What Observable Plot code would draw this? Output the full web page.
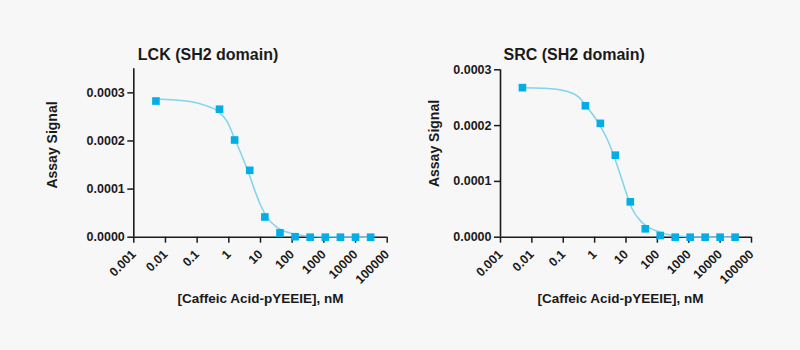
<!DOCTYPE html>
<html><head><meta charset="utf-8">
<script src="https://cdn.jsdelivr.net/npm/d3@7"></script>
<script src="https://cdn.jsdelivr.net/npm/@observablehq/plot@0.6"></script>
<style>
html,body{margin:0;padding:0;background:#f7f7f7;}
#wrap{display:flex;width:800px;height:350px;overflow:hidden;}
#wrap svg{font-family:"Liberation Sans",Arial,Helvetica,sans-serif;}
</style></head><body><div id="wrap"></div>
<script>
// Concentrations (nM) of the measured points
const concentrations = [0.005, 0.508, 1.524, 4.572, 13.72, 41.15, 123.5, 370.4, 1111, 3333, 10000, 30000];
// Measured assay signal
const lckSignal = [0.000283, 0.000266, 0.000202, 0.000139, 0.000042, 0.000009, 0.000001, 0, 0, 0, 0, 0];
const srcSignal = [0.000268, 0.0002355, 0.000204, 0.000147, 0.0000634, 0.000015, 0.000003, 0, 0, 0, 0, 0];
// Fitted curves
const lckCurveX = [0.005, 0.06, 0.2, 0.43, 0.89, 1.44, 2.34, 4.27, 6.2, 10, 17, 34, 89, 300, 1000, 30000];
const lckCurveY = [0.000287, 0.000282, 0.000273, 0.000263, 0.00024, 0.000209, 0.000176, 0.000133, 0.000102, 0.000067, 0.000039, 0.00002, 0.0000085, 0.0000025, 0.0000008, 0];
const srcCurveX = [0.005, 0.027, 0.117, 0.31, 0.58, 1.35, 2.5, 4.1, 5.9, 9.6, 15.6, 32, 87, 300, 1000, 30000];
const srcCurveY = [0.000268, 0.000267, 0.000262, 0.000251, 0.000233, 0.000204, 0.000176, 0.000146, 0.00012, 0.0000837, 0.0000509, 0.0000269, 0.000012, 0.000003, 0.000001, 0];
// Axis ticks
const xTicks = [0.001, 0.01, 0.1, 1, 10, 100, 1000, 10000, 100000];
const xTickLabels = ["0.001", "0.01", "0.1", "1", "10", "100", "1000", "10000", "100000"];
const yTicks = [0, 0.0001, 0.0002, 0.0003];
const yTickLabels = ["0.0000", "0.0001", "0.0002", "0.0003"];
const titles = ["LCK (SH2 domain)", "SRC (SH2 domain)"];
const xLabel = "[Caffeic Acid-pYEEIE], nM";
const yLabel = "Assay Signal";
const yMaxes = [0.00035, 0.0003];

const dotColor = "#03aee6";
const lineColor = "#7fd4f0";
const axisColor = "#1a1a1a";

function panel(i, signal, cx, cy, m) {
  const pts = concentrations.map((c, k) => ({x: c, y: signal[k]}));
  const curve = cx.map((c, k) => ({x: c, y: cy[k]}));
  return Plot.plot({
    width: 400, height: 350,
    marginLeft: m.l, marginRight: m.r, marginTop: m.t, marginBottom: m.b,
    style: {background: "transparent", overflow: "visible", fontFamily: "Liberation Sans, Arial, sans-serif"},
    x: {type: "log", domain: [0.001, 100000]},
    y: {domain: [0, yMaxes[i]]},
    marks: [
      Plot.axisX(xTicks, {tickFormat: d => xTickLabels[xTicks.indexOf(d)], tickRotate: -45, tickSize: 6, tickPadding: 9,
        fontSize: 12.5, fontWeight: "bold", fill: axisColor, stroke: axisColor, strokeWidth: 1.5, label: null}),
      Plot.axisY(yTicks, {tickFormat: d => yTickLabels[yTicks.indexOf(d)], tickSize: 6, tickPadding: 3,
        fontSize: 12.5, fontWeight: "bold", fill: axisColor, stroke: axisColor, strokeWidth: 1.5, label: null}),
      Plot.ruleY([0], {stroke: axisColor, strokeWidth: 1.6}),
      Plot.ruleX([0.001], {stroke: axisColor, strokeWidth: 1.6}),
      Plot.line(curve, {x: "x", y: "y", stroke: lineColor, strokeWidth: 1.5, curve: "monotone-x"}),
      Plot.dot(pts, {x: "x", y: "y", symbol: "square", r: 4.3, fill: dotColor}),
      Plot.text([titles[i]], {frameAnchor: "top-left", textAnchor: "start", lineAnchor: "middle", dx: m.tdx, dy: m.tdy, fontSize: 16, fontWeight: "bold", fill: axisColor}),
      Plot.text([yLabel], {frameAnchor: "left", textAnchor: "middle", lineAnchor: "middle", rotate: -90, dx: m.ydx, dy: m.ydy, fontSize: 14, fontWeight: "bold", fill: axisColor}),
      Plot.text([xLabel], {frameAnchor: "bottom", textAnchor: "middle", lineAnchor: "middle", dx: m.xdx, dy: 61.5, fontSize: 13.5, fontWeight: "bold", fill: axisColor})
    ]
  });
}

const wrap = document.getElementById("wrap");
wrap.append(panel(0, lckSignal, lckCurveX, lckCurveY, {l: 133.3, r: 13.3, t: 68.3, b: 113.3, tdx: 4, tdy: -14.3, ydx: -81, ydy: -8, xdx: 0}));
wrap.append(panel(1, srcSignal, srcCurveX, srcCurveY, {l: 100, r: 49, t: 69.3, b: 113.3, tdx: 3, tdy: -15.3, ydx: -66, ydy: -10, xdx: -5.5}));
</script></body></html>
